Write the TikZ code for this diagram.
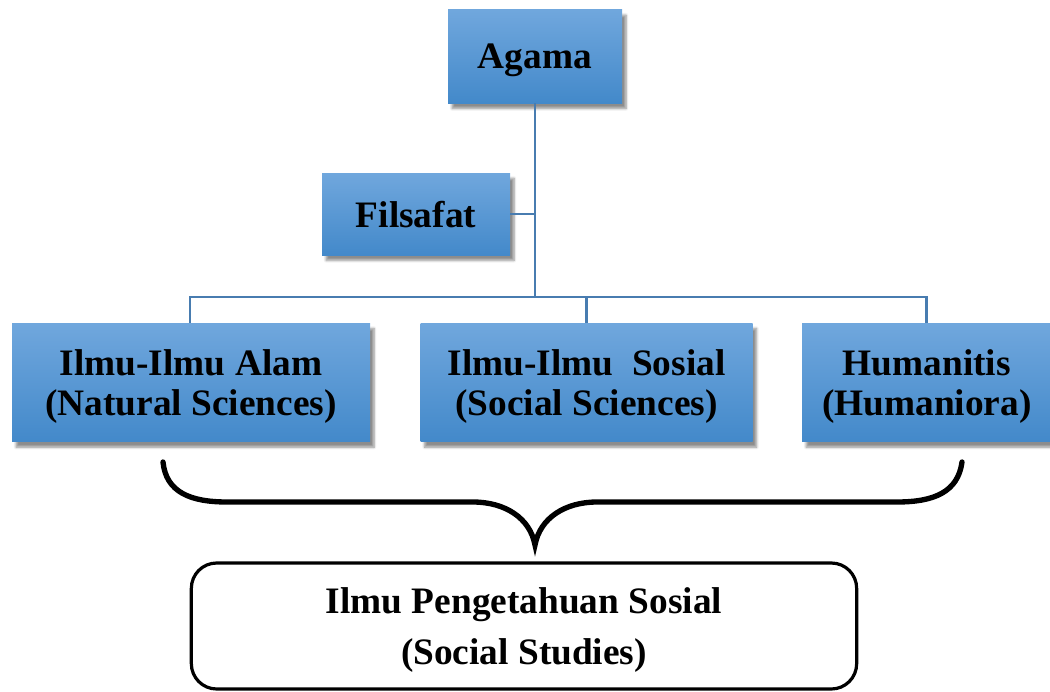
\documentclass[tikz,border=0pt]{standalone}
\usepackage{fontspec}
\setmainfont{Liberation Serif}
\usetikzlibrary{positioning,shadows.blur}
\definecolor{boxtop}{RGB}{112,167,221}
\definecolor{boxbot}{RGB}{67,137,202}
\definecolor{linkblue}{RGB}{72,124,176}
\tikzset{
    box/.style={rectangle,inner sep=0pt,align=center,text depth=0pt,
        top color=boxtop,bottom color=boxbot,
        font=\fontsize{28}{30}\selectfont\bfseries,
        blur shadow={shadow xshift=3pt,shadow yshift=-4pt,shadow blur steps=6,shadow opacity=45}},
    link/.style={draw=linkblue,line width=2.2pt},
    brace/.style={draw=black,line width=4pt,line cap=round},
    result/.style={rectangle,draw=black,line width=2.4pt,rounded corners=19pt,
        align=center,text depth=0pt,font=\fontsize{28}{38.5}\selectfont\bfseries}
}

\begin{document}
\begin{tikzpicture}[x=0.75pt,y=-0.75pt]
    \useasboundingbox (0,0) rectangle (1050,692);

    \node[box,minimum width=130.5pt,minimum height=70pt] (agama)    at (535,56.5) {Agama};
    \node[box,minimum width=141pt,minimum height=61.5pt] (filsafat) at (416,214)  {Filsafat};

    \node[box,minimum width=268.5pt,minimum height=89pt] (alam) at (191,382.5)
        {Ilmu-Ilmu Alam\\(Natural Sciences)};
    \node[box,minimum width=249pt,minimum height=89pt] (sosial) [right=37.5pt of alam]
        {Ilmu-Ilmu~~Sosial\\(Social Sciences)};
    \node[box,minimum width=187pt,minimum height=89pt] (human) [right=36.75pt of sosial]
        {Humanitis\\(Humaniora)};

    \coordinate (bus) at (535,297);
    \draw[link] (agama.south) -- (bus);
    \draw[link] (filsafat.east) -- (filsafat.east -| bus);
    \draw[link] ([xshift=-0.75pt]alam.north) |- (human.north |- bus) -- (human.north);
    \draw[link] (sosial.north) -- (sosial.north |- bus);

    % brace
    \coordinate (braceL) at (163,462);
    \coordinate (braceR) at (962,462);
    \coordinate (tip)    at (535,545);
    \draw[brace] (braceL) .. controls (166,492) and (190,502) .. (227,502)
        -- (473,502) .. controls (505,502) and (530,518) .. (tip)
        .. controls (540,518) and (565,502) .. (597,502)
        -- (897,502) .. controls (934,502) and (958,492) .. (braceR);

    \node[result,minimum width=499pt,minimum height=94.5pt] (ips) at (524,626)
        {Ilmu Pengetahuan Sosial\\(Social Studies)};
\end{tikzpicture}
\end{document}
